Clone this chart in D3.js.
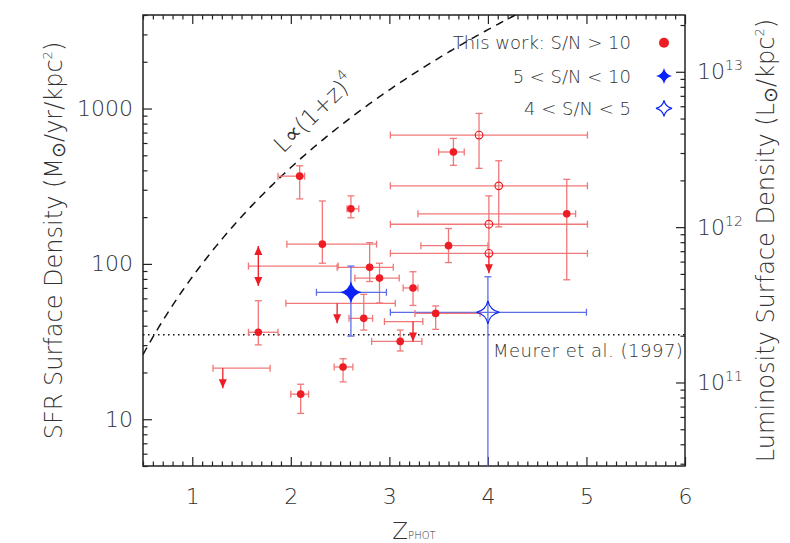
<!DOCTYPE html>
<html>
<head>
<meta charset="utf-8">
<script src="https://cdn.jsdelivr.net/npm/d3@7"></script>
<style>
body{margin:0;background:#fff}
text{font-family:"DejaVu Sans",sans-serif;font-weight:200;fill:#333}
.tick text{font-size:22px}
</style>
</head>
<body>
<div id="chart"></div>
<script>
// red filled dots, S/N > 10
var detZ     = [2.09, 2.61, 2.32, 2.80, 2.90, 3.24, 2.74, 3.47, 1.67, 2.53, 2.10, 3.11, 3.65, 4.80, 3.60];
var detZLo   = [1.87, 2.57, 1.96, 2.47, 2.65, 3.14, 2.59, 3.26, 1.57, 2.44, 2.00, 2.82, 3.50, 3.29, 3.32];
var detZHi   = [2.14, 2.69, 2.87, 3.04, 3.10, 3.29, 2.83, 3.92, 1.87, 2.63, 2.18, 3.33, 3.76, 4.89, 4.00];
var detSfr   = [367, 226, 134, 95, 81, 70, 44.6, 48, 36.3, 21.7, 14.5, 31.7, 525, 210, 131];
var detSfrLo = [262, 198, 101, 77, 56, 54, 37.5, 37.9, 30.1, 17.4, 10.9, 27.5, 431, 79, 102];
var detSfrHi = [428, 274, 254, 137, 101, 89, 63.7, 53.6, 57.9, 24.5, 16.8, 37.5, 642, 350, 169];

// red open circles (last one is an upper limit)
var openZ     = [3.91, 4.11, 4.01, 4.01];
var openZLo   = [3.01, 3.01, 3.01, 3.01];
var openZHi   = [5.01, 5.01, 5.01, 5.01];
var openSfr   = [675, 318, 180, 117];
var openSfrLo = [412, 173, 117, null];
var openSfrHi = [930, 461, 274, null];

// red upper limits (arrows only)
var limZ   = [2.47, 1.31, 3.24];
var limZLo = [1.95, 1.21, 2.95];
var limZHi = [3.06, 1.79, 3.34];
var limSfr = [55.7, 21.3, 42.5];

// red point with arrows both ways
var bothZ = [1.67], bothZLo = [1.57], bothZHi = [2.48], bothSfr = [96.8];

// blue stars
var midZ = [2.61], midZLo = [2.26], midZHi = [2.97], midSfr = [65.6], midSfrLo = [34.3], midSfrHi = [96.8];
var lowZ = [4.00], lowZLo = [3.01], lowZHi = [5.00], lowSfr = [48.8], lowSfrLo = [1], lowSfrHi = [82.6];

var meurerSfr = 35;          // Meurer et al. (1997)
var curveNorm = 5.15;        // SFR = curveNorm * (1+z)^4
var lumPerSfr = 5.8e9;       // L_sun/kpc^2 per M_sun/yr/kpc^2

var xMajor = [1, 2, 3, 4, 5, 6];
var yMajor = [10, 100, 1000];
var yRMajor = [1e11, 1e12, 1e13];

var legendLabels = ["This work: S/N > 10", "5 < S/N < 10", "4 < S/N < 5"];

var L = 143, R = 685, T = 15, B = 466;
var red = "#ee1c24", redBar = "#f07878", blue = "#0a22f5", blueBar = "#5b6ee8";
var CAP = 3.5;

var svg = d3.select("#chart").append("svg").attr("width", 790).attr("height", 543);

var x = d3.scaleLinear().domain([0.5, 6]).range([L, R]);
var y = d3.scaleLog().domain([5, 4000]).range([B, T]);
var yR = d3.scaleLog().domain([5 * lumPerSfr, 4000 * lumPerSfr]).range([B, T]);

svg.append("clipPath").attr("id", "plot").append("rect")
   .attr("x", L).attr("y", T).attr("width", R - L).attr("height", B - T);

// minor tick values
var xMinor = d3.range(5, 61).map(function(v){ return v / 10; }).filter(function(v){ return Math.abs(v - Math.round(v)) > 1e-6; });
function logMinor(scale){
    var d = scale.domain(), out = [];
    for (var k = Math.floor(Math.log10(d[0])); k <= Math.ceil(Math.log10(d[1])); k++){
        for (var m = 2; m <= 9; m++){
            var v = m * Math.pow(10, k);
            if (v >= d[0] && v <= d[1]) out.push(v);
        }
    }
    return out;
}

function styleAxis(g){
    g.select(".domain").remove();
    g.attr("font-size", null).attr("font-family", null);
    g.selectAll("line").attr("stroke", "#222").attr("stroke-width", 1.2);
}

// axes
svg.append("g").attr("transform", "translate(0," + B + ")")
   .call(d3.axisBottom(x).tickValues(xMajor).tickSize(-9).tickPadding(22).tickFormat(d3.format("d"))).call(styleAxis);
svg.append("g").attr("transform", "translate(0," + B + ")")
   .call(d3.axisBottom(x).tickValues(xMinor).tickSize(-4.5).tickFormat("")).call(styleAxis);
svg.append("g").attr("transform", "translate(0," + T + ")")
   .call(d3.axisTop(x).tickValues(xMajor).tickSize(-9).tickFormat("")).call(styleAxis);
svg.append("g").attr("transform", "translate(0," + T + ")")
   .call(d3.axisTop(x).tickValues(xMinor).tickSize(-4.5).tickFormat("")).call(styleAxis);

svg.append("g").attr("transform", "translate(" + L + ",0)")
   .call(d3.axisLeft(y).tickValues(yMajor).tickSize(-9).tickPadding(10).tickFormat(d3.format("d"))).call(styleAxis);
svg.append("g").attr("transform", "translate(" + L + ",0)")
   .call(d3.axisLeft(y).tickValues(logMinor(y)).tickSize(-4.5).tickFormat("")).call(styleAxis);

var rAxis = svg.append("g").attr("transform", "translate(" + R + ",0)")
   .call(d3.axisRight(yR).tickValues(yRMajor).tickSize(-9).tickPadding(12).tickFormat(function(){ return ""; })).call(styleAxis);
rAxis.selectAll(".tick text").each(function(d){
    var t = d3.select(this);
    t.text("10");
    t.append("tspan").attr("dy", "-9px").style("font-size", "14px").text(Math.round(Math.log10(d)));
});
svg.append("g").attr("transform", "translate(" + R + ",0)")
   .call(d3.axisRight(yR).tickValues(logMinor(yR)).tickSize(-4.5).tickFormat("")).call(styleAxis);

svg.append("rect").attr("x", L).attr("y", T).attr("width", R - L).attr("height", B - T)
   .attr("fill", "none").attr("stroke", "#222").attr("stroke-width", 1.5);

// axis titles
var xt = svg.append("text").attr("x", (L + R) / 2).attr("y", 539).attr("text-anchor", "middle").style("font-size", "23px");
xt.append("tspan").text("Z");
xt.append("tspan").style("font-size", "10px").text("PHOT");

var lt = svg.append("text").attr("transform", "translate(62," + (T + B) / 2 + ") rotate(-90)")
   .attr("text-anchor", "middle").style("font-size", "24px");
lt.append("tspan").text("SFR Surface Density (M");
lt.append("tspan").attr("dy", "3px").style("font-size", "19px").text("\u2299");
lt.append("tspan").attr("dy", "-3px").text("/yr/kpc");
lt.append("tspan").attr("dy", "-10px").style("font-size", "13px").text("2");
lt.append("tspan").attr("dy", "10px").text(")");

var rt = svg.append("text").attr("transform", "translate(774," + (T + B) / 2 + ") rotate(-90)")
   .attr("text-anchor", "middle").style("font-size", "24px");
rt.append("tspan").text("Luminosity Surface Density (L");
rt.append("tspan").attr("dy", "3px").style("font-size", "19px").text("\u2299");
rt.append("tspan").attr("dy", "-3px").text("/kpc");
rt.append("tspan").attr("dy", "-10px").style("font-size", "13px").text("2");
rt.append("tspan").attr("dy", "10px").text(")");

var plot = svg.append("g").attr("clip-path", "url(#plot)");

// reference lines
var curveZ = d3.range(0.5, 4.6, 0.02);
plot.append("path")
    .attr("d", d3.line().x(function(z){ return x(z); }).y(function(z){ return y(curveNorm * Math.pow(1 + z, 4)); })(curveZ))
    .attr("fill", "none").attr("stroke", "#111").attr("stroke-width", 1.5).attr("stroke-dasharray", "8,6");
plot.append("line").attr("x1", L).attr("x2", R).attr("y1", y(meurerSfr)).attr("y2", y(meurerSfr))
    .attr("stroke", "#111").attr("stroke-width", 1.5).attr("stroke-dasharray", "1.5,3.5");

svg.append("text").attr("x", 493).attr("y", 357).style("font-size", "18px").style("letter-spacing", "0.5px").text("Meurer et al. (1997)");

var cl = svg.append("text").attr("transform", "translate(283,154) rotate(-44)").style("font-size", "23px");
cl.append("tspan").text("L\u221d(1+z)");
cl.append("tspan").attr("dy", "-11px").style("font-size", "14px").text("4");

// error bars
function drawErr(zs, zLo, zHi, s, sLo, sHi, color){
    var g = plot.append("g").attr("stroke", color).attr("stroke-width", 1.3).attr("fill", "none");
    zs.forEach(function(z, i){
        var py = y(s[i]), px = x(z);
        g.append("line").attr("x1", x(zLo[i])).attr("x2", x(zHi[i])).attr("y1", py).attr("y2", py);
        [zLo[i], zHi[i]].forEach(function(v){
            g.append("line").attr("x1", x(v)).attr("x2", x(v)).attr("y1", py - CAP).attr("y2", py + CAP);
        });
        if (sLo && sLo[i] != null){
            g.append("line").attr("x1", px).attr("x2", px).attr("y1", y(sHi[i])).attr("y2", y(sLo[i]));
            [sLo[i], sHi[i]].forEach(function(v){
                g.append("line").attr("x1", px - CAP).attr("x2", px + CAP).attr("y1", y(v)).attr("y2", y(v));
            });
        }
    });
}

function drawArrow(z, s, dir, color){
    var px = x(z), py = y(s), tip = py + dir * 20;
    plot.append("line").attr("x1", px).attr("x2", px).attr("y1", py).attr("y2", tip)
        .attr("stroke", color).attr("stroke-width", 1.3);
    plot.append("path").attr("d", "M" + (px - 4) + "," + (tip - dir * 9) + "L" + (px + 4) + "," + (tip - dir * 9) + "L" + px + "," + tip + "Z")
        .attr("fill", red);
}

function starPath(R){
    var r = R * 0.18;
    return "M0," + (-R) + "Q" + r + "," + (-r) + " " + R + ",0Q" + r + "," + r + " 0," + R +
           "Q" + (-r) + "," + r + " " + (-R) + ",0Q" + (-r) + "," + (-r) + " 0," + (-R) + "Z";
}

drawErr(lowZ, lowZLo, lowZHi, lowSfr, lowSfrLo, lowSfrHi, blueBar);
drawErr(detZ, detZLo, detZHi, detSfr, detSfrLo, detSfrHi, redBar);
drawErr(openZ, openZLo, openZHi, openSfr, openSfrLo, openSfrHi, redBar);
drawErr(limZ, limZLo, limZHi, limSfr, null, null, redBar);
drawErr(bothZ, bothZLo, bothZHi, bothSfr, null, null, redBar);
drawErr(midZ, midZLo, midZHi, midSfr, midSfrLo, midSfrHi, blueBar);

limZ.forEach(function(z, i){ drawArrow(z, limSfr[i], 1, red); });
openZ.forEach(function(z, i){ if (openSfrLo[i] == null) drawArrow(z, openSfr[i], 1, red); });
bothZ.forEach(function(z, i){ drawArrow(z, bothSfr[i], 1, red); drawArrow(z, bothSfr[i], -1, red); });

// markers
plot.selectAll(".det").data(detZ).enter().append("circle")
    .attr("cx", function(d){ return x(d); }).attr("cy", function(d, i){ return y(detSfr[i]); })
    .attr("r", 3.8).attr("fill", red);
plot.selectAll(".open").data(openZ).enter().append("circle")
    .attr("cx", function(d){ return x(d); }).attr("cy", function(d, i){ return y(openSfr[i]); })
    .attr("r", 3.8).attr("fill", "none").attr("stroke", red).attr("stroke-width", 1.2);
plot.selectAll(".mid").data(midZ).enter().append("path")
    .attr("transform", function(d, i){ return "translate(" + x(d) + "," + y(midSfr[i]) + ")"; })
    .attr("d", starPath(11)).attr("fill", blue);
plot.selectAll(".low").data(lowZ).enter().append("path")
    .attr("transform", function(d, i){ return "translate(" + x(d) + "," + y(lowSfr[i]) + ")"; })
    .attr("d", starPath(11.5)).attr("fill", "none").attr("stroke", blue).attr("stroke-width", 1.2);

// legend
var legY = [49, 82.5, 114.5], symY = [42.7, 76, 108.3];
legendLabels.forEach(function(t, i){
    svg.append("text").attr("x", 631).attr("y", legY[i]).attr("text-anchor", "end").style("font-size", "18px").text(t);
});
svg.append("circle").attr("cx", 664).attr("cy", symY[0]).attr("r", 5).attr("fill", red);
svg.append("path").attr("transform", "translate(664," + symY[1] + ")").attr("d", starPath(8)).attr("fill", blue);
svg.append("path").attr("transform", "translate(664," + symY[2] + ")").attr("d", starPath(8))
   .attr("fill", "none").attr("stroke", blue).attr("stroke-width", 1.2);
</script>
</body>
</html>
